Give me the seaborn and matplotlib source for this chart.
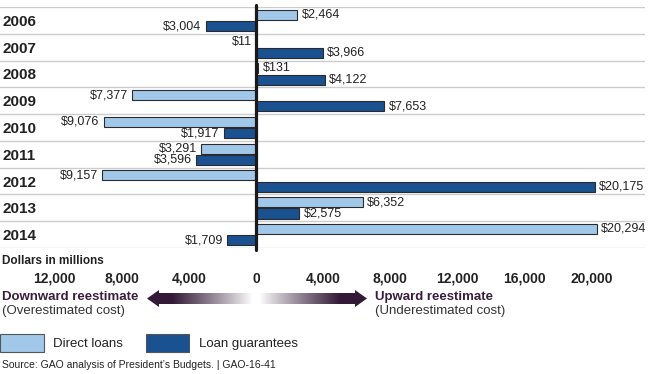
import numpy as np
import pandas as pd
import seaborn as sns
import matplotlib.pyplot as plt
from matplotlib.patches import Polygon

# reestimates in millions of dollars
years = ['2006', '2007', '2008', '2009', '2010', '2011', '2012', '2013', '2014']
direct_loans = [2464, -11, 131, -7377, -9076, -3291, -9157, 6352, 20294]
loan_guarantees = [-3004, 3966, 4122, 7653, -1917, -3596, 20175, 2575, -1709]
series_names = ['Direct loans', 'Loan guarantees']
tick_values = [-12000, -8000, -4000, 0, 4000, 8000, 12000, 16000, 20000]

light_blue = '#a2c8e9'
dark_blue = '#1a5190'
purple = '#3b1d3e'

sns.set_style('white')
plt.rcParams['font.family'] = ['Liberation Sans', 'DejaVu Sans']

df = pd.DataFrame({
    'year': years * 2,
    'value': direct_loans + loan_guarantees,
    'type': [series_names[0]] * len(years) + [series_names[1]] * len(years),
})

W, H = 650, 374
fig = plt.figure(figsize=(W / 100, H / 100), dpi=100)

# main chart area, pixel box (0,7) - (645,248)
ax = fig.add_axes([0, 1 - 248 / H, 645 / W, (248 - 7) / H])
sns.barplot(data=df, y='year', x='value', hue='type', orient='h',
            palette=[light_blue, dark_blue], saturation=1, width=0.84, gap=0.1,
            edgecolor='#2b2b2b', linewidth=0.8, ax=ax, zorder=2)
handles, labels = ax.get_legend_handles_labels()
ax.get_legend().remove()

ax.set_xlim(-15260, 23180)
ax.set_ylim(8.5, -0.5)
for y in np.arange(-0.5, len(years), 1.0):
    ax.axhline(y, color='#cccccc', lw=1, zorder=1)
ax.axvline(0, color='#1a1a1a', lw=2.3, zorder=4, ymin=-0.01, ymax=1.01, clip_on=False)

for cont, vals in zip(ax.containers, [direct_loans, loan_guarantees]):
    ax.bar_label(cont, labels=[f'${abs(v):,}' for v in vals], padding=3,
                 fontsize=9, color='#222222')

ax.set_xlabel('')
ax.set_ylabel('')
ax.set_xticks(tick_values)
ax.set_xticklabels([f'{abs(v):,}' for v in tick_values], fontweight='bold',
                   fontsize=10, color='#222222')
ax.tick_params(axis='x', length=0, pad=17)
ax.tick_params(axis='y', length=0, pad=-2)
for lab in ax.get_yticklabels():
    lab.set_horizontalalignment('left')
    lab.set_fontweight('bold')
    lab.set_fontsize(11)
    lab.set_color('#222222')
sns.despine(ax=ax, left=True, bottom=True)

# overlay for annotations in pixel coordinates
ov = fig.add_axes([0, 0, 1, 1], zorder=-1)
ov.set_xlim(0, W)
ov.set_ylim(H, 0)
ov.axis('off')

ov.text(2, 261, 'Dollars in millions', fontsize=8.5, fontweight='bold',
        color='#222222', va='center')
ov.text(2, 297, 'Downward reestimate', fontsize=9.5, fontweight='bold',
        color=purple, va='center')
ov.text(2, 311, '(Overestimated cost)', fontsize=9.5, color='#333333', va='center')
ov.text(375, 297, 'Upward reestimate', fontsize=9.5, fontweight='bold',
        color=purple, va='center')
ov.text(375, 311, '(Underestimated cost)', fontsize=9.5, color='#333333', va='center')

# gradient double arrow
xl, xr, xc, yc = 147, 367, 256, 298.5
head, hh, sh = 12, 8.5, 5.5
arrow = Polygon([(xl, yc), (xl + head, yc - hh), (xl + head, yc - sh),
                 (xr - head, yc - sh), (xr - head, yc - hh), (xr, yc),
                 (xr - head, yc + hh), (xr - head, yc + sh), (xl + head, yc + sh),
                 (xl + head, yc + hh)], closed=True, facecolor='none', edgecolor='none')
ov.add_patch(arrow)
xs = np.linspace(xl, xr, 400)
d = np.abs(xs - xc)
f = np.clip((d - 4) / 80, 0, 1) ** 0.9
dark = np.array([52, 26, 56]) / 255
grad = (1 - f)[:, None] * np.ones(3) + f[:, None] * dark
img = ov.imshow(grad[None, :, :], extent=(xl, xr, yc + hh, yc - hh), aspect='auto')
img.set_clip_path(arrow)
ov.set_xlim(0, W)
ov.set_ylim(H, 0)

leg = fig.legend(handles, labels, loc='center left', bbox_to_anchor=(0.0, 1 - 343 / H),
                 ncol=2, frameon=False, fontsize=9.5, handlelength=3.3, handleheight=1.65,
                 handletextpad=0.75, columnspacing=1.7, borderpad=0, borderaxespad=0)
for t in leg.get_texts():
    t.set_color('#222222')
for p in leg.get_patches():
    p.set_edgecolor('#555555')

ov.text(2, 365, "Source: GAO analysis of President\u2019s Budgets. | GAO-16-41",
        fontsize=7.5, color='#222222', va='center')

fig.savefig('out.png', dpi=100)
